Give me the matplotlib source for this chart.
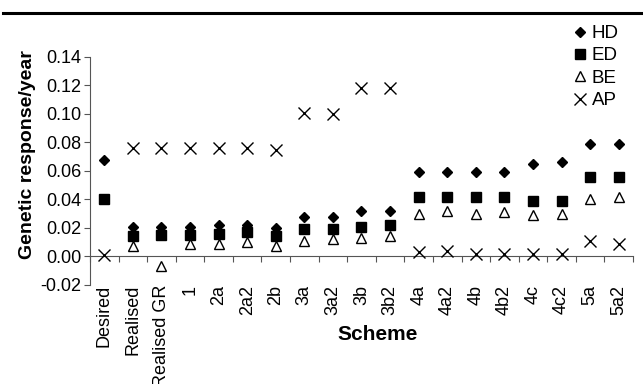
import matplotlib.pyplot as plt
import numpy as np
from matplotlib.lines import Line2D

plt.rcParams['font.family'] = ['Liberation Sans', 'DejaVu Sans']

# Data
schemes = ['Desired', 'Realised', 'Realised GR', '1', '2a', '2a2', '2b',
           '3a', '3a2', '3b', '3b2', '4a', '4a2', '4b', '4b2', '4c', '4c2',
           '5a', '5a2']
hd = [0.068, 0.021, 0.021, 0.021, 0.022, 0.022, 0.020, 0.028, 0.028, 0.032,
      0.032, 0.059, 0.059, 0.059, 0.059, 0.065, 0.066, 0.079, 0.079]
ed = [0.040, 0.014, 0.015, 0.015, 0.016, 0.017, 0.014, 0.019, 0.019, 0.021,
      0.022, 0.042, 0.042, 0.042, 0.042, 0.039, 0.039, 0.056, 0.056]
be = [np.nan, 0.007, -0.007, 0.009, 0.009, 0.010, 0.0075, 0.011, 0.012, 0.013,
      0.0145, 0.030, 0.032, 0.030, 0.031, 0.029, 0.030, 0.040, 0.042]
ap = [0.001, 0.076, 0.076, 0.076, 0.076, 0.076, 0.075, 0.101, 0.100, 0.118,
      0.118, 0.003, 0.0035, 0.002, 0.002, 0.002, 0.002, 0.0105, 0.009]

x = np.arange(len(schemes))
axis_col = '#555555'

fig = plt.figure(figsize=(6.43, 3.84), dpi=100)
ax = fig.add_axes([0.14, 0.258, 0.8444, 0.5936])

ax.plot(x, hd, 'D', color='black', ms=5.6, label='HD', ls='none')
ax.plot(x, ed, 's', color='black', ms=7.5, label='ED', ls='none')
ax.plot(x, be, '^', mfc='white', mec='black', mew=1, ms=7.5, label='BE', ls='none')
ax.plot(x, ap, 'x', color='black', ms=8, mew=1, label='AP', ls='none')

ax.set_xlim(-0.5, len(schemes) - 0.5)
ax.set_ylim(-0.02, 0.14)
ax.set_yticks(np.arange(-0.02, 0.141, 0.02))
ax.yaxis.set_major_formatter(plt.FormatStrFormatter('%.2f'))

for s in ['top', 'right', 'bottom']:
    ax.spines[s].set_visible(False)
ax.spines['left'].set_color(axis_col)
ax.tick_params(axis='y', labelsize=13, length=4, color=axis_col, pad=2)
ax.set_xticks(x)
ax.set_xticklabels(schemes, rotation=90, fontsize=13)
ax.tick_params(axis='x', length=0, pad=0)

# axis line through zero with ticks between categories
sec = ax.secondary_xaxis(0.02 / 0.16)
sec.set_xticks(np.arange(-0.5, len(schemes), 1.0))
sec.set_xticklabels([])
sec.spines['bottom'].set_color(axis_col)
sec.tick_params(length=4, color=axis_col)

ax.set_ylabel('Genetic response/year', fontsize=14, fontweight='bold')
ax.yaxis.set_label_coords(-0.10, 0.57)
ax.set_xlabel('Scheme', fontsize=15, fontweight='bold')
ax.xaxis.set_label_coords(0.53, -0.175)

fig.legend(loc='upper left', bbox_to_anchor=(572 / 643, 1 - 25 / 384),
           frameon=False, fontsize=13.5, handlelength=0.8, handletextpad=0.24,
           labelspacing=0.28, borderpad=0, borderaxespad=0)

fig.add_artist(Line2D([0.005, 1.0], [1 - 13 / 384] * 2, color='black', lw=2.2))

fig.savefig('out.png', dpi=100)
